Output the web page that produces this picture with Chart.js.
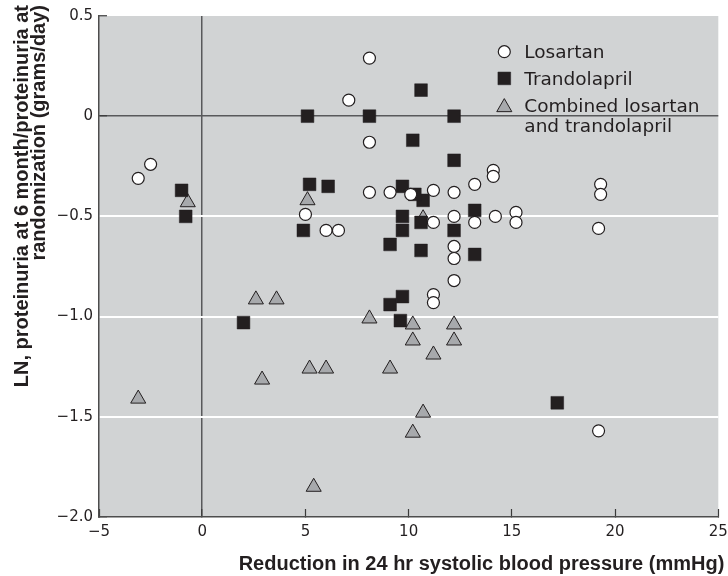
<!DOCTYPE html>
<html>
<head>
<meta charset="utf-8">
<title>Proteinuria change vs systolic BP reduction</title>
<script src="https://cdn.jsdelivr.net/npm/chart.js@4.4.1/dist/chart.umd.min.js"></script>
<style>
  html, body { margin: 0; padding: 0; background: #fff; }
  canvas { display: block; }
</style>
</head>
<body>
<canvas id="chart" width="728" height="576"></canvas>
<script>
// reduction in 24 hr systolic BP (x) against LN proteinuria ratio (y), one point per patient
const losartanX = [-3.1, -2.5, 8.1, 7.1, 8.1, 8.1, 9.1, 10.1, 5.0, 6.0, 6.6, 11.2, 12.2, 13.2, 14.1, 14.1,
  12.2, 11.2, 13.2, 14.2, 15.2, 15.2, 12.2, 12.2, 19.3, 19.3, 19.2, 11.2, 11.2, 12.2, 19.2];
const losartanY = [-0.31, -0.24, 0.29, 0.08, -0.13, -0.38, -0.38, -0.39, -0.49, -0.57, -0.57, -0.37, -0.38, -0.34, -0.27, -0.30,
  -0.50, -0.53, -0.53, -0.50, -0.48, -0.53, -0.65, -0.71, -0.34, -0.39, -0.56, -0.89, -0.93, -0.82, -1.57];

const trandolaprilX = [5.1, 8.1, 10.6, 10.2, -1.0, -0.8, 5.2, 6.1, 9.7, 4.9, 9.7, 9.7, 9.1, 12.2,
  12.2, 10.7, 13.2, 10.6, 12.2, 10.6, 13.2, 10.3, 2.0, 9.1, 9.7, 9.6, 17.2];
const trandolaprilY = [0, 0, 0.13, -0.12, -0.37, -0.50, -0.34, -0.35, -0.35, -0.57, -0.50, -0.57, -0.64, 0,
  -0.22, -0.42, -0.47, -0.53, -0.57, -0.67, -0.69, -0.39, -1.03, -0.94, -0.90, -1.02, -1.43];

const combinedX = [10.7, -0.7, 5.1, 2.6, 3.6, 8.1, 10.2, 10.2, 5.2, 6.0, 9.1, 2.9, -3.1, 10.2, 5.4,
  12.2, 12.2, 11.2, 10.7];
const combinedY = [-0.51, -0.43, -0.42, -0.915, -0.915, -1.01, -1.04, -1.12, -1.26, -1.26, -1.26, -1.315, -1.41, -1.58, -1.85,
  -1.04, -1.12, -1.19, -1.48];

const seriesNames = ['Losartan', 'Trandolapril', 'Combined losartan and trandolapril'];
const legendLines = [['Losartan'], ['Trandolapril'], ['Combined losartan', 'and trandolapril']];

const xTickValues = [-5, 0, 5, 10, 15, 20, 25];
const xTickLabels = ['\u22125', '0', '5', '10', '15', '20', '25'];
const yTickValues = [0.5, 0, -0.5, -1.0, -1.5, -2.0];
const yTickLabels = ['0.5', '0', '\u22120.5', '\u22121.0', '\u22121.5', '\u22122.0'];

const xTitle = 'Reduction in 24 hr systolic blood pressure (mmHg)';
const yTitle = ['LN, proteinuria at 6 month/proteinuria at', 'randomization (grams/day)'];

const ink = '#231f20';
const panel = '#d1d3d4';
const zeroLine = '#58595b';
const whiteLines = [-0.5, -1.0, -1.5];

const pts = (xs, ys) => xs.map((x, i) => ({ x: x, y: ys[i] }));

// grey panel behind the plot
const panelBg = {
  id: 'panelBg',
  beforeDraw(chart) {
    const { ctx, chartArea: a } = chart;
    ctx.save();
    ctx.fillStyle = panel;
    ctx.fillRect(a.left, a.top, a.right - a.left, a.bottom - a.top);
    ctx.restore();
  }
};

// axis titles: x right-aligned under the axis, y in two lines reading upwards
const axisTitles = {
  id: 'axisTitles',
  afterDraw(chart) {
    const { ctx, chartArea: a } = chart;
    ctx.save();
    ctx.fillStyle = ink;
    ctx.font = 'bold 20px "Liberation Sans", Arial, sans-serif';
    ctx.textBaseline = 'alphabetic';
    ctx.textAlign = 'right';
    ctx.fillText(xTitle, a.right + 6, 570);
    yTitle.forEach((line, i) => {
      ctx.save();
      ctx.translate(27.5 + i * 17.5, 5);
      ctx.rotate(-Math.PI / 2);
      ctx.fillText(line, 0, 0);
      ctx.restore();
    });
    ctx.restore();
  }
};

// legend box in the upper right of the panel
const boxLegend = {
  id: 'boxLegend',
  afterDraw(chart) {
    const { ctx, chartArea: a } = chart;
    const mx = a.right - 214;
    ctx.save();
    ctx.font = '18.5px "DejaVu Sans", sans-serif';
    ctx.textAlign = 'left';
    ctx.textBaseline = 'alphabetic';
    chart.data.datasets.forEach((ds, i) => {
      const base = a.top + 42.3 + i * 26.7;
      const dy = ds.pointStyle === 'triangle' ? 2.2 : 0;
      ctx.fillStyle = ds.pointBackgroundColor;
      ctx.strokeStyle = ds.pointBorderColor;
      ctx.lineWidth = ds.pointBorderWidth;
      Chart.helpers.drawPoint(ctx, {
        pointStyle: ds.pointStyle,
        radius: ds.pointRadius,
        borderWidth: ds.pointBorderWidth,
        rotation: 0
      }, mx, base - 6.6 + dy);
      ctx.fillStyle = ink;
      legendLines[i].forEach((t, j) => ctx.fillText(t, mx + 20, base + j * 20));
    });
    ctx.restore();
  }
};

const tickFont = { family: '"DejaVu Sans", sans-serif', size: 15 };

new Chart(document.getElementById('chart'), {
  type: 'scatter',
  data: {
    datasets: [
      {
        label: seriesNames[0],
        data: pts(losartanX, losartanY),
        pointStyle: 'circle',
        pointRadius: 6,
        pointBackgroundColor: '#ffffff',
        pointBorderColor: ink,
        pointBorderWidth: 1.2
      },
      {
        label: seriesNames[1],
        data: pts(trandolaprilX, trandolaprilY),
        pointStyle: 'rect',
        pointRadius: 9,
        pointBackgroundColor: ink,
        pointBorderColor: ink,
        pointBorderWidth: 0.5
      },
      {
        label: seriesNames[2],
        data: pts(combinedX, combinedY),
        pointStyle: 'triangle',
        pointRadius: 8.7,
        pointBackgroundColor: '#a7a9ac',
        pointBorderColor: ink,
        pointBorderWidth: 1
      }
    ]
  },
  options: {
    responsive: false,
    animation: false,
    devicePixelRatio: 1,
    layout: { padding: { top: 16, right: 9, left: 0, bottom: 0 } },
    plugins: {
      legend: { display: false },
      tooltip: { enabled: false }
    },
    scales: {
      x: {
        type: 'linear',
        min: -5,
        max: 25,
        afterBuildTicks: s => { s.ticks = xTickValues.map(v => ({ value: v })); },
        afterFit: s => {
          s.height = 59;
          s.paddingLeft = 0;
          s.paddingRight = 0;
        },
        ticks: {
          autoSkip: false,
          maxRotation: 0,
          padding: 14,
          color: ink,
          font: tickFont,
          callback: v => xTickLabels[xTickValues.indexOf(v)]
        },
        grid: {
          drawTicks: true,
          tickLength: -8,
          color: c => (c.tick && c.tick.value === 0 ? zeroLine : 'transparent'),
          lineWidth: c => (c.tick && c.tick.value === 0 ? 1.5 : 1),
          tickColor: '#3a3a3a',
          tickWidth: 1.2
        },
        border: { display: true, color: '#4d4d4d', width: 1.5 }
      },
      y: {
        type: 'linear',
        min: -2,
        max: 0.5,
        afterBuildTicks: s => { s.ticks = yTickValues.map(v => ({ value: v })); },
        afterFit: s => {
          s.width = 99;
          s.paddingTop = 0;
          s.paddingBottom = 0;
        },
        ticks: {
          autoSkip: false,
          padding: 14,
          color: ink,
          font: tickFont,
          callback: v => yTickLabels[yTickValues.indexOf(v)]
        },
        grid: {
          drawTicks: true,
          tickLength: -8,
          color: c => {
            if (!c.tick) return 'transparent';
            if (c.tick.value === 0) return zeroLine;
            return whiteLines.includes(c.tick.value) ? '#ffffff' : 'transparent';
          },
          lineWidth: c => (c.tick && whiteLines.includes(c.tick.value) ? 2 : 1.5),
          tickColor: c => (c.tick && whiteLines.includes(c.tick.value) ? 'transparent' : '#3a3a3a'),
          tickWidth: 1.2
        },
        border: { display: true, color: '#4d4d4d', width: 1.5 }
      }
    }
  },
  plugins: [panelBg, axisTitles, boxLegend]
});
</script>
</body>
</html>
